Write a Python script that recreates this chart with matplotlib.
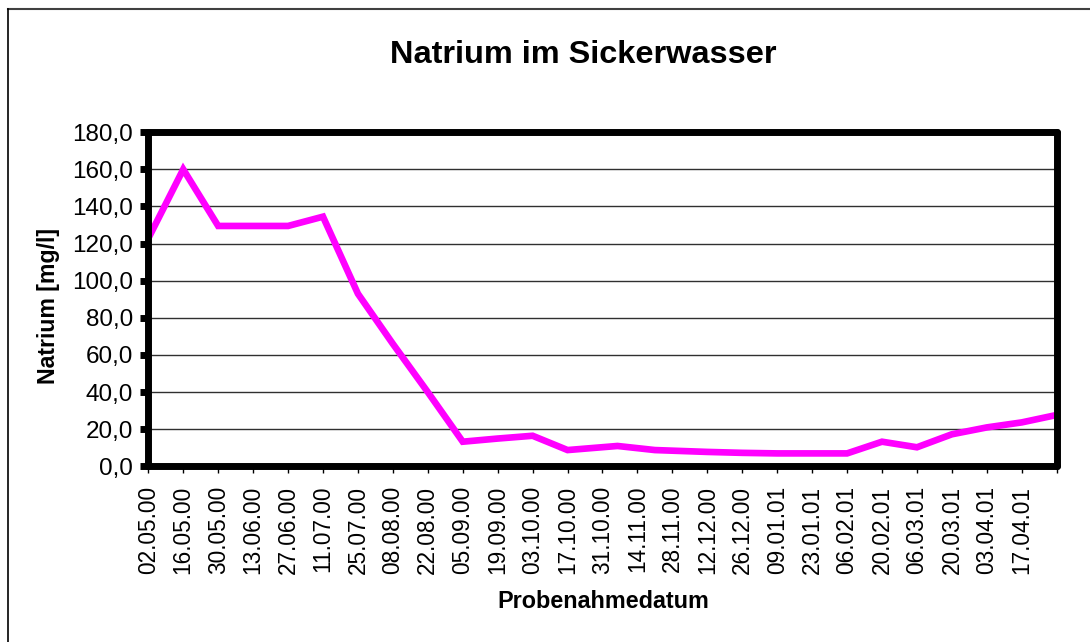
from datetime import datetime

import matplotlib

matplotlib.use("Agg")
import matplotlib.pyplot as plt
from matplotlib.lines import Line2D

plt.rcParams["font.family"] = ["Liberation Sans", "DejaVu Sans"]

# sampling dates and sodium values (mg/l)
sample_dates = [
    "02.05.00", "16.05.00", "30.05.00", "13.06.00", "27.06.00", "11.07.00",
    "25.07.00", "08.08.00", "22.08.00", "05.09.00", "19.09.00", "03.10.00",
    "17.10.00", "06.11.00", "21.11.00", "12.12.00", "26.12.00", "09.01.01",
    "23.01.01", "06.02.01", "20.02.01", "06.03.01", "20.03.01", "03.04.01",
    "17.04.01", "01.05.01",
]
natrium = [
    122.8, 160.0, 129.5, 129.5, 129.5, 134.5,
    93.0, 66.0, 40.0, 13.3, 15.0, 16.5,
    8.8, 11.0, 8.8, 7.8, 7.3, 7.0,
    7.0, 7.0, 13.3, 10.3, 17.3, 21.0,
    23.7, 27.7,
]

tick_labels = [
    "02.05.00", "16.05.00", "30.05.00", "13.06.00", "27.06.00", "11.07.00",
    "25.07.00", "08.08.00", "22.08.00", "05.09.00", "19.09.00", "03.10.00",
    "17.10.00", "31.10.00", "14.11.00", "28.11.00", "12.12.00", "26.12.00",
    "09.01.01", "23.01.01", "06.02.01", "20.02.01", "06.03.01", "20.03.01",
    "03.04.01", "17.04.01",
]
axis_end = "01.05.01"
y_ticks = [0, 20, 40, 60, 80, 100, 120, 140, 160, 180]


def parse(d):
    return datetime.strptime(d, "%d.%m.%y")


W, H = 1090, 642
fig = plt.figure(figsize=(W / 100, H / 100), dpi=100)
fig.patch.set_facecolor("white")

ax = fig.add_axes([148.3 / W, 1 - 466.4 / H, (1056.7 - 148.3) / W, (466.4 - 132.2) / H])

x = [parse(d) for d in sample_dates]
ax.plot(x, natrium, color="#FF00FF", lw=4.8, solid_joinstyle="miter", zorder=2)

ticks = [parse(d) for d in tick_labels] + [parse(axis_end)]
ax.set_xlim(ticks[0], ticks[-1])
ax.set_xticks(ticks)
ax.set_xticklabels(tick_labels + [""], rotation=90, fontsize=16.3)
ax.tick_params(axis="x", direction="out", length=5, width=1, pad=9)

ax.set_ylim(0, 180)
ax.set_yticks(y_ticks)
ax.set_yticklabels([f"{v:.1f}".replace(".", ",") for v in y_ticks], fontsize=17.5)
ax.tick_params(axis="y", direction="out", length=6, width=5, pad=5)

ax.grid(axis="y", color="#303030", lw=1)
ax.set_axisbelow(True)
for s in ax.spines.values():
    s.set_linewidth(5)
    s.set_color("black")
    s.set_capstyle("round")

fig.text(583 / W, 1 - 55 / H, "Natrium im Sickerwasser", ha="center", va="center",
         fontsize=23.4, fontweight="bold")
fig.text(49 / W, 1 - 306 / H, "Natrium [mg/l]", ha="center", va="center",
         rotation=90, fontsize=16.7, fontweight="bold")
fig.text(603 / W, 1 - 601 / H, "Probenahmedatum", ha="center", va="center",
         fontsize=16.8, fontweight="bold")

# chart area border (top and left visible)
fig.add_artist(Line2D([8 / W, 1], [1 - 9 / H] * 2, transform=fig.transFigure,
                      color="#404040", lw=1.5))
fig.add_artist(Line2D([8 / W] * 2, [0, 1 - 9 / H], transform=fig.transFigure,
                      color="black", lw=1.2))

fig.savefig("out.png", dpi=100)
